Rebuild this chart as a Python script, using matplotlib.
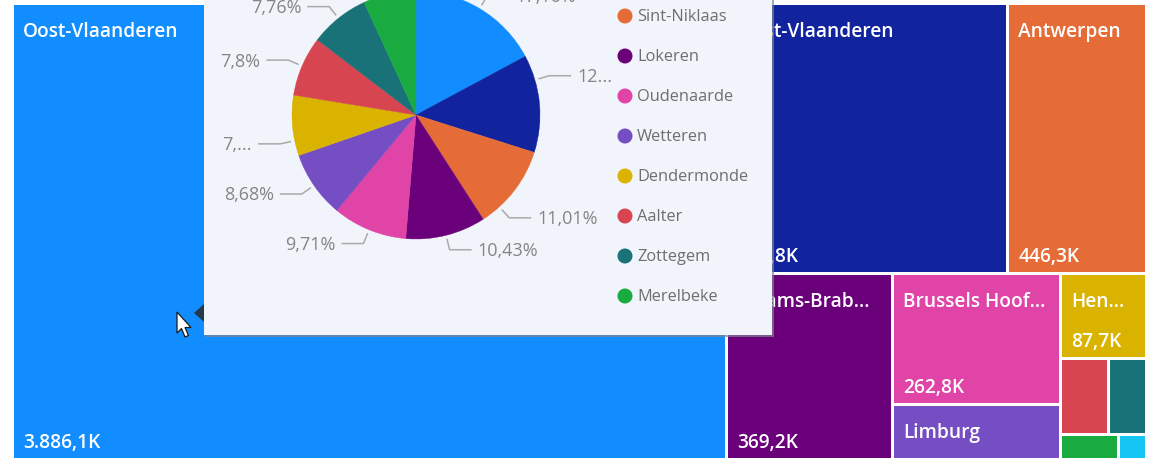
import math
import matplotlib
matplotlib.use("Agg")
import matplotlib.pyplot as plt
from matplotlib.patches import Rectangle, Polygon, Circle

# ---------------- data ----------------
provinces = ["Oost-Vlaanderen", "West-Vlaanderen", "Antwerpen", "Vlaams-Brabant",
             "Brussels Hoofdstedelijk Gewest", "Limburg", "Henegouwen", "Luik",
             "Namen", "Luxemburg", "Waals-Brabant"]
province_values = [3886.1, 906.8, 446.3, 369.2, 262.8, 109.2, 87.7, 43.4, 34.4, 17.3, 8.4]  # in K
province_display = ["Oost-Vlaanderen", "West-Vlaanderen", "Antwerpen", "Vlaams-Brab...",
                    "Brussels Hoof...", "Limburg", "Hen...", "", "", "", ""]
province_show_value = [True, True, True, True, True, False, True, False, False, False, False]

cities = ["Gent", "Aalst", "Sint-Niklaas", "Lokeren", "Oudenaarde", "Wetteren",
          "Dendermonde", "Aalter", "Zottegem", "Merelbeke"]
city_share = [17.16, 12.72, 11.01, 10.43, 9.71, 8.68, 7.86, 7.80, 7.76, 6.87]  # percent
city_label_override = {1: "12...", 6: "7,..."}

palette = ["#118DFF", "#12239E", "#E66C37", "#6B007B", "#E044A7", "#744EC2",
           "#D9B300", "#D64550", "#197278", "#1AAB40", "#15C6F4"]

# ---------------- helpers ----------------
def fmt_nl(v, dec=1):
    s = f"{v:,.{dec}f}"
    return s.replace(",", "X").replace(".", ",").replace("X", ".")

def fmt_pct(p):
    s = f"{p:.2f}".rstrip("0").rstrip(".")
    return s.replace(".", ",") + "%"

def squarify_d3(values, x0, y0, x1, y1, ratio=(1 + 5 ** 0.5) / 2):
    """d3-hierarchy squarify (golden ratio) layout."""
    rects = [None] * len(values)
    n = len(values)
    i0 = i1 = 0
    value = float(sum(values))
    while i0 < n:
        dx, dy = x1 - x0, y1 - y0
        sum_v = values[i1]; i1 += 1
        min_v = max_v = sum_v
        alpha = max(dy / dx, dx / dy) / (value * ratio)
        beta = sum_v * sum_v * alpha
        min_ratio = max(max_v / beta, beta / min_v)
        while i1 < n:
            nv = values[i1]
            s2 = sum_v + nv
            mn, mx = min(min_v, nv), max(max_v, nv)
            beta = s2 * s2 * alpha
            new_ratio = max(mx / beta, beta / mn)
            if new_ratio > min_ratio:
                break
            sum_v, min_v, max_v, min_ratio = s2, mn, mx, new_ratio
            i1 += 1
        idx = list(range(i0, i1))
        if dx < dy:  # dice: row across the top
            h = dy * sum_v / value
            xx = x0
            for k in idx:
                w = dx * values[k] / sum_v
                rects[k] = (xx, y0, w, h); xx += w
            y0 += h
        else:        # slice: column at the left
            w = dx * sum_v / value
            yy = y0
            for k in idx:
                h = dy * values[k] / sum_v
                rects[k] = (x0, yy, w, h); yy += h
            x0 += w
        value -= sum_v
        i0 = i1
    return rects

# ---------------- figure ----------------
W, H = 1166, 462
fig = plt.figure(figsize=(W / 100, H / 100), dpi=100)
fig.patch.set_facecolor("white")
ax = fig.add_axes([0, 0, 1, 1])
ax.set_xlim(0, W); ax.set_ylim(H, 0); ax.axis("off")

FONT = ["Open Sans", "DejaVu Sans"]

# treemap
gap = 1.5
rects = squarify_d3(province_values, 12.5, 3.5, 1146.5, 459.5)
for i, (x, y, w, h) in enumerate(rects):
    ax.add_patch(Rectangle((x + gap, y + gap), w - 2 * gap, h - 2 * gap,
                           facecolor=palette[i], edgecolor="none", zorder=1))
    if province_display[i]:
        ax.text(x + gap + 9, y + gap + 27, province_display[i], color="white",
                fontsize=13.8, fontweight="semibold", family=FONT,
                ha="left", va="center", zorder=2)
    if province_show_value[i]:
        ax.text(x + gap + 9, y + h - gap - 15, fmt_nl(province_values[i]) + "K",
                color="white", fontsize=13.8, fontweight="semibold", family=FONT,
                ha="left", va="center", zorder=2)

# tooltip
tx0, ty0, tx1, ty1 = 204, -20, 772, 335
ax.add_patch(Rectangle((tx0 + 1, ty0), tx1 - tx0 + 1, ty1 - ty0 + 1.5,
                       facecolor="#7d8494", edgecolor="none", alpha=0.7, zorder=5))
ax.add_patch(Rectangle((tx0, ty0), tx1 - tx0, ty1 - ty0,
                       facecolor="#F1F4FA", edgecolor="none", zorder=6))
ax.add_patch(Polygon([[194, 313], [204, 304], [204, 322]], closed=True,
                     facecolor="#2b2b2b", edgecolor="none", alpha=0.85, zorder=5))
# mouse cursor
cursor = [[177, 312], [177, 333], [181.5, 328.5], [185, 337], [188.5, 335.5],
          [185, 327.5], [191, 327.5]]
ax.add_patch(Polygon(cursor, closed=True, facecolor="white", edgecolor="#1a1a1a",
                     linewidth=0.9, zorder=8))

# pie
cx, cy, R = 416, 115, 124
pax = fig.add_axes([(cx - R) / W, 1 - (cy + R) / H, 2 * R / W, 2 * R / H], zorder=2)
wedges, _ = pax.pie(city_share, colors=palette[:len(city_share)], startangle=90,
                    counterclock=False, radius=1)
for wdg in wedges:
    wdg.set_edgecolor(wdg.get_facecolor())
    wdg.set_linewidth(0.3)
pax.set_xlim(-1, 1); pax.set_ylim(-1, 1); pax.axis("off")

# pie labels with leader lines
angle_adjust = {1: -11.1, 2: 10.4, 6: -7.1}
total = sum(city_share)
cum = 0.0
for i, p in enumerate(city_share):
    mid = (cum + p / 2) / total * 360.0 + angle_adjust.get(i, 0)
    cum += p
    t = math.radians(mid)
    sx, sy = cx + 1.03 * R * math.sin(t), cy - 1.03 * R * math.cos(t)
    ex, ey = cx + 1.12 * R * math.sin(t), cy - 1.12 * R * math.cos(t)
    side = 1 if math.sin(t) >= 0 else -1
    hx = ex + side * 22
    ax.plot([sx, ex, hx], [sy, ey, ey], color="#A9A9A9", linewidth=1.1, zorder=7,
            solid_capstyle="butt")
    label = city_label_override.get(i, fmt_pct(p))
    ax.text(hx + side * 6, ey + 1.5, label, color="#858585", fontsize=13, family=FONT,
            ha="left" if side > 0 else "right", va="center", zorder=7)

# legend
leg_x, leg_y0, leg_dy = 625, 16 - 2 * 40, 40
for i, name in enumerate(cities):
    y = leg_y0 + i * leg_dy
    ax.add_patch(Circle((leg_x, y), 7.5, facecolor=palette[i], edgecolor="none", zorder=7))
    ax.text(leg_x + 12, y + 1, name, color="#6E6E6E", fontsize=11.8, family=FONT,
            ha="left", va="center", zorder=7)

fig.savefig("out.png", dpi=100, facecolor="white")
